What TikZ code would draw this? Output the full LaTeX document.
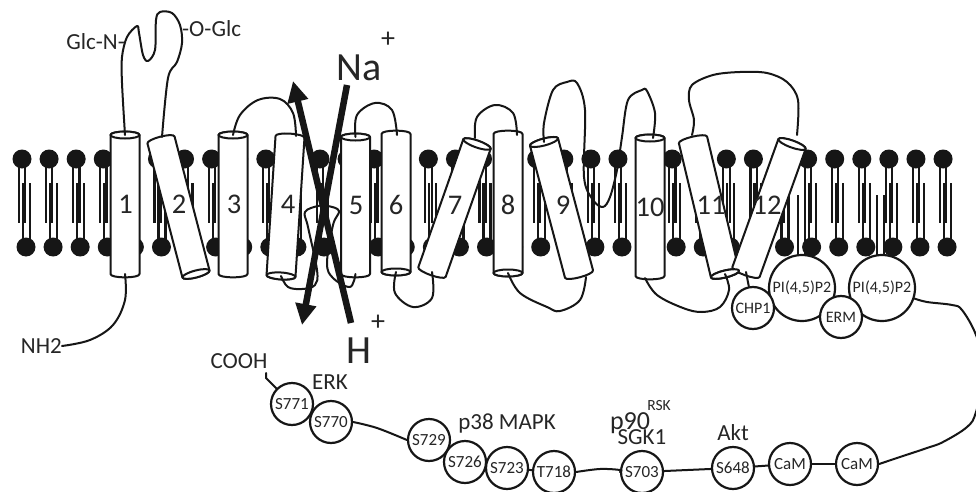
\documentclass[tikz,border=0pt]{standalone}
\usepackage{fontspec}
\setmainfont{Carlito}
\usetikzlibrary{calc,arrows.meta}
\definecolor{ink}{HTML}{161616}
\definecolor{txt}{HTML}{262626}
\tikzset{
  lipidtail/.style={draw=ink,line width=2.2pt},
  loopline/.style={draw=ink,line width=2pt,line cap=round,line join=round},
  cylline/.style={draw=ink,line width=2pt,line join=round,fill=white},
  site/.style={circle,draw=ink,line width=2.2pt,fill=white,minimum size=42pt,inner sep=0pt,font=\fontsize{17}{18}\selectfont,text=txt},
  bigsite/.style={circle,draw=ink,line width=2.2pt,fill=white,minimum size=66pt,inner sep=0pt,font=\fontsize{16}{17}\selectfont,text=txt},
  num/.style={font=\fontsize{28.5}{29}\selectfont,text=txt,inner sep=0pt},
  lab/.style={font=\fontsize{23}{24}\selectfont,text=txt,inner sep=0pt},
  ion/.style={font=\fontsize{40}{40}\selectfont,text=txt,inner sep=0pt},
  ioncharge/.style={font=\fontsize{28}{28}\selectfont,text=txt,inner sep=0pt},
  transport/.style={draw=ink,line width=6.5pt,-{Triangle[length=21pt,width=20pt,fill=ink]}},
}
% axis data of one helix: angle and length between its two end points
\newcommand{\cylaxis}[1]{%
  \path let \p1=($(c#1b)-(c#1t)$) in \pgfextra{%
    \pgfmathsetmacro\tmpA{atan2(\y1,\x1)}%
    \pgfmathsetmacro\tmpL{veclen(\x1,\y1)}%
    \global\let\cylang\tmpA\global\let\cylen\tmpL};%
}
% helix: #1 id, #2 half width, #3 open end (t or b)
\newcommand{\helix}[3]{%
  \cylaxis{#1}%
  \begin{scope}[shift={(c#1t)},rotate=\cylang]
    \draw[cylline] (0,-#2) .. controls (-4.5,-#2) and (-4.5,#2) .. (0,#2)
      -- (\cylen,#2) .. controls (\cylen+4.5,#2) and (\cylen+4.5,-#2) .. (\cylen,-#2) -- cycle;
    \if#3t\draw[cylline] (0,0) ellipse[x radius=3.5pt,y radius=#2pt];\fi
    \if#3b\draw[cylline] (\cylen,0) ellipse[x radius=3.5pt,y radius=#2pt];\fi
  \end{scope}%
}
\begin{document}
\begin{tikzpicture}[x=1pt,y=-1pt]
\clip (0,0) rectangle (976,492);
\fill[white] (0,0) rectangle (976,492);

% bilayer
\foreach \n in {0,...,34}{
  \pgfmathsetmacro\lx{22+27.09*\n}
  \fill[ink] (\lx,159) circle[radius=9.5pt];
  \fill[ink] (\lx+4,247) circle[radius=9.5pt];
  \draw[lipidtail] (\lx-3,166) -- (\lx-3,223);
  \draw[lipidtail] (\lx+3.3,166) -- (\lx+3.3,223);
  \draw[lipidtail] (\lx+1,183) -- (\lx+1,240);
  \draw[lipidtail] (\lx+8,183) -- (\lx+8,240);
}
% lipids anchored on the phosphoinositides
\foreach \lx in {798,805,877,884}{
  \draw[lipidtail] (\lx,195) -- (\lx,255);
}

% helix end points
\coordinate (c1t) at (125,135);  \coordinate (c1b) at (125,274);
\coordinate (c2t) at (161,140);  \coordinate (c2b) at (196,274);
\coordinate (c3t) at (233,135);  \coordinate (c3b) at (233,274);
\coordinate (c4t) at (290,137);  \coordinate (c4b) at (281,276);
\coordinate (c5t) at (355.5,137);\coordinate (c5b) at (355.5,274);
\coordinate (c6t) at (396,134);  \coordinate (c6b) at (396,272);
\coordinate (c7t) at (477,144);  \coordinate (c7b) at (432,272);
\coordinate (c8t) at (508,134);  \coordinate (c8b) at (508,273);
\coordinate (c9t) at (544,142);  \coordinate (c9b) at (579,274);
\coordinate (c10t) at (650,138); \coordinate (c10b) at (650,276);
\coordinate (c11t) at (693,140); \coordinate (c11b) at (725,274);
\coordinate (c12t) at (792,144); \coordinate (c12b) at (746,272);

\helix{1}{14.5}{t}
\helix{2}{14}{b}
\helix{3}{14.5}{t}
\helix{4}{14.5}{b}
\helix{5}{14.5}{t}
\helix{6}{14.5}{b}
\helix{7}{14.5}{t}
\helix{8}{14.5}{b}
\helix{9}{14.5}{t}
\helix{10}{14.5}{t}
\helix{11}{14.5}{b}
\helix{12}{14.5}{t}
% cap of helix 11 lies over the foot of helix 12
\cylaxis{11}
\begin{scope}[shift={(c11b)},rotate=\cylang]
  \draw[cylline] (0,0) ellipse[x radius=3.5pt,y radius=14.5pt];
\end{scope}

% helix numbers
\node[num] (n1) at (125.5,204) {1};
\node[num] (n2) at (179,204) {2};
\node[num] (n3) at (234,204) {3};
\node[num] (n4) at (288,204) {4};
\node[num] (n5) at (356,205) {5};
\node[num] (n6) at (396,205) {6};
\node[num] (n7) at (455,205) {7};
\node[num] (n8) at (508,205) {8};
\node[num] (n9) at (563,205) {9};
\node[num] (n10) at (650,207) {10};
\node[num] (n11) at (711,205) {11};
\node[num] (n12) at (767,205) {12};

% intra- and extracellular loops
\draw[loopline] plot[smooth,tension=.55] coordinates {(c1t) (122,83) (122,57) (127,37) (137,26) (139,33) (143,55) (148,61) (155,50) (156,20) (160,12) (172,13) (180,25) (182,43) (177,62) (168,78) (162,137)};
\draw[loopline] plot[smooth,tension=.6] coordinates {(c3t) (240,115) (258,100) (280,99) (293,113) (296,136)};
\draw[loopline] plot[smooth,tension=.6] coordinates {(c4b) (288,287) (302,289) (315,285) (317,270) (308,227) (305,212) (318,206) (328,206) (339,211) (333,225) (327,263) (333,278) (350,287) (c5b)};
\draw[loopline] plot[smooth,tension=.6] coordinates {(c5t) (357,115) (375,103) (392,110) (397,135)};
\draw[loopline] plot[smooth,tension=.6] coordinates {(c6b) (395,293) (413,307) (432,298) (c7b)};
\draw[loopline] plot[smooth,tension=.6] coordinates {(475,138) (477,117) (495,105) (513,113) (517,135)};
\draw[loopline] plot[smooth,tension=.6] coordinates {(c8b) (520,293) (547,307) (560,311) (580,300) (586,277)};
\draw[loopline] plot[smooth,tension=.55] coordinates {(c9t) (544,123) (553,90) (567,82) (577,83) (585,110) (584,177) (593,200) (603,207) (610,197) (617,170) (622,137) (628,100) (642,90) (647,91) (655,113) (653,138)};
\draw[loopline] plot[smooth,tension=.6] coordinates {(645,278) (657,295) (683,308) (702,312) (720,307) (729,290) (c11b)};
\draw[loopline] plot[smooth,tension=.55] coordinates {(692,135) (694,120) (689,100) (692,85) (713,75) (740,72) (767,73) (787,82) (798,100) (797,135)};

% ion paths
\coordinate (naend) at (347,85);
\coordinate (natip) at (302,325);
\coordinate (hend) at (351,323);
\coordinate (htip) at (293,81);
\draw[transport] (naend) -- (natip);
\draw[transport] (hend) -- (htip);
\node[ion,anchor=base] (na) at (359,81) {Na};
\node[ioncharge] (naplus) at (388,40) {+};
\node[ion,anchor=base] (h) at (359,363) {H};
\node[ioncharge] (hplus) at (378,323) {+};

% glycosylation and termini
\node[lab,anchor=east] (glcn) at (125,42) {Glc-N-};
\node[lab,anchor=west] (oglc) at (182,29) {-O-Glc};
\node[lab,anchor=east] (nh2) at (62,346) {NH2};
\node[lab] (cooh) at (239,361) {COOH};
\draw[loopline] plot[smooth,tension=.6] coordinates {(c1b) (125,300) (113,325) (90,340) (nh2.east)};

% membrane-associated partners
\node[bigsite] (pip1) at (802,288) {PI(4,5)P2};
\node[bigsite] (pip2) at (882,288) {PI(4,5)P2};
\node[site,font=\fontsize{16}{17}\selectfont] (chp1) at (753,308) {CHP1};
\node[site,font=\fontsize{16}{17}\selectfont] (erm) at (841,317) {ERM};
\draw[loopline] (c12b) -- (chp1);

% phosphorylation sites and binding sites of the tail
\node[site] (s771) at (292,404) {S771};
\node[site] (s770) at (331,422) {S770};
\node[site] (s729) at (429,440) {S729};
\node[site] (s726) at (465,462) {S726};
\node[site] (s723) at (507,468) {S723};
\node[site] (t718) at (554,472) {T718};
\node[site] (s703) at (642,472) {S703};
\node[site] (s648) at (733,468) {S648};
\node[site] (cam1) at (790,464) {CaM};
\node[site] (cam2) at (857,464) {CaM};

\coordinate (coohtail) at (266,373);
\draw[loopline] (coohtail) -- (266,378) -- (s771);
\draw[loopline] plot[smooth,tension=.6] coordinates {(s770.east) (377,428) (s729.west)};
\draw[loopline] (s723) -- (t718);
\draw[loopline] plot[smooth,tension=.6] coordinates {(t718.east) (600,469) (620,470) (s703.west)};
\draw[loopline] (s703) -- (s648);
\draw[loopline] (s648) -- (cam1);
\draw[loopline] (cam1) -- (cam2);
\draw[loopline] plot[smooth,tension=.6] coordinates {(cam2.east) (900,457) (927,448) (943,442) (967,427) (976,412) (985,370) (976,335) (962,310) (952,305) (927,302) (pip2.-18)};

% kinases
\node[lab] (erk) at (330,382) {ERK};
\node[lab] (p38) at (507,423) {p38 MAPK};
\node[font=\fontsize{26}{26}\selectfont,text=txt,inner sep=0pt] (p90) at (630,423) {p90};
\node[font=\fontsize{15.5}{16}\selectfont,text=txt,inner sep=0pt] (rsk) at (659,406) {RSK};
\node[lab] (sgk) at (642,437) {SGK1};
\node[lab] (akt) at (733,433) {Akt};
\end{tikzpicture}
\end{document}
